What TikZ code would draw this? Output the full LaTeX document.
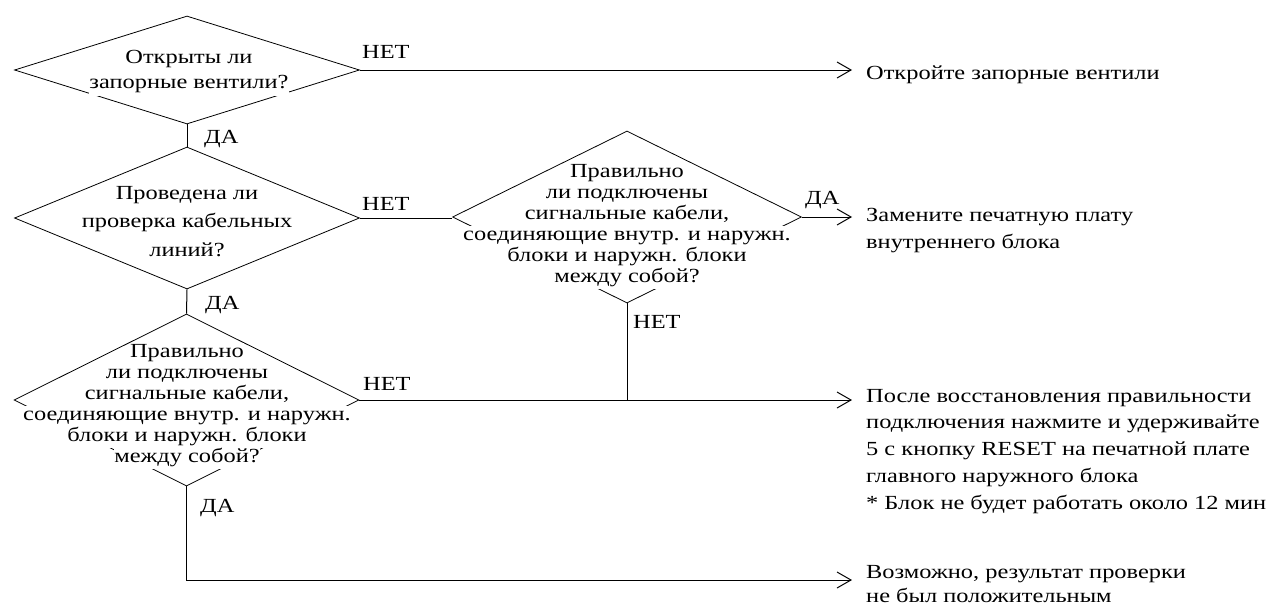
\documentclass[tikz,border=0pt]{standalone}
\usepackage{fontspec}
\setmainfont{Liberation Serif}[FakeStretch=1.22]
\usetikzlibrary{shapes.geometric, arrows.meta, positioning}
\newcommand{\wl}[1]{{\setlength{\fboxsep}{0pt}\colorbox{white}{\strut #1}}}
\tikzstyle{decision} = [diamond, draw=black, line width=0.8pt, inner sep=0pt]
\tikzstyle{qtext}    = [align=center, inner sep=0pt]
\tikzstyle{action}   = [align=left, inner xsep=14pt, inner ysep=0pt, anchor=base west]
\tikzstyle{answer}   = [inner sep=0pt, anchor=base west]
\tikzstyle{line}     = [line width=1pt]
\tikzstyle{arrow}    = [line width=1pt, -{Straight Barb[length=14pt, width=16pt]}]

\begin{document}
\begin{tikzpicture}[x=1pt, y=-1pt, font=\fontsize{20}{27}\selectfont]
  \useasboundingbox (0,0) rectangle (1271,611);
  \node (q1) [decision, minimum width=345pt, minimum height=108pt] at (187,70)    {};
  \node (q2) [decision, minimum width=345pt, minimum height=142pt] at (187,218)   {};
  \node (q3) [decision, minimum width=345pt, minimum height=172pt] at (186.5,400) {};
  \node (q4) [decision, minimum width=349pt, minimum height=172pt] at (627,217)   {};
  \node (q1t) [qtext, font=\fontsize{20}{25}\selectfont] at (189,71)
    {\wl{Открыты ли}\\\wl{запорные вентили?}};
  \node (q2t) [qtext, font=\fontsize{20}{28.5}\selectfont] at (187,222)
    {\wl{Проведена ли}\\\wl{проверка кабельных}\\\wl{линий?}};
  \node (q3t) [qtext, font=\fontsize{20}{21}\selectfont] at (187,406)
    {\wl{Правильно}\\\wl{ли подключены}\\\wl{сигнальные кабели,}\\\wl{соединяющие внутр. и наружн.}\\\wl{блоки и наружн. блоки}\\\wl{между собой?}};
  \node (q4t) [qtext, font=\fontsize{20}{21}\selectfont] at (627,226)
    {\wl{Правильно}\\\wl{ли подключены}\\\wl{сигнальные кабели,}\\\wl{соединяющие внутр. и наружн.}\\\wl{блоки и наружн. блоки}\\\wl{между собой?}};
  \node (r1) [action] at (852,79)  {Откройте запорные вентили};
  \node (r2) [action] at (852,248) {Замените печатную плату\\внутреннего блока};
  \node (r3) [action, font=\fontsize{20}{26.7}\selectfont] at (852,509)
    {После восстановления правильности\\подключения нажмите и удерживайте\\5 с кнопку RESET на печатной плате\\главного наружного блока\\* Блок не будет работать около 12 мин};
  \node (r4) [action, font=\fontsize{20}{24}\selectfont] at (852,602) {Возможно, результат проверки\\не был положительным};
  \node (a1) [answer] at (362,58)  {НЕТ};
  \node (a2) [answer] at (204,143) {ДА};
  \node (a3) [answer] at (362,210) {НЕТ};
  \node (a4) [answer] at (205,309) {ДА};
  \node (a5) [answer] at (805,204) {ДА};
  \node (a6) [answer] at (633,328) {НЕТ};
  \node (a7) [answer] at (363,390) {НЕТ};
  \node (a8) [answer] at (200,512) {ДА};
  \coordinate (c4) at (186.5,580);
  \draw [arrow] (q1.east) -- (q1.east -| r1.west);
  \draw [line]  (q1.south) -- (q2.north);
  \draw [line]  (q2.east) -- (q2.east -| q4.west);
  \draw [line]  (q2.south) -- (q3.north);
  \draw [arrow] (q4.east) -- (q4.east -| r2.west);
  \draw [line]  (q4.south) -- (q4.south |- q3.east);
  \draw [arrow] (q3.east) -- (q3.east -| r3.west);
  \draw [arrow] (q3.south) -- (c4) -- (c4 -| r4.west);
\end{tikzpicture}
\end{document}
